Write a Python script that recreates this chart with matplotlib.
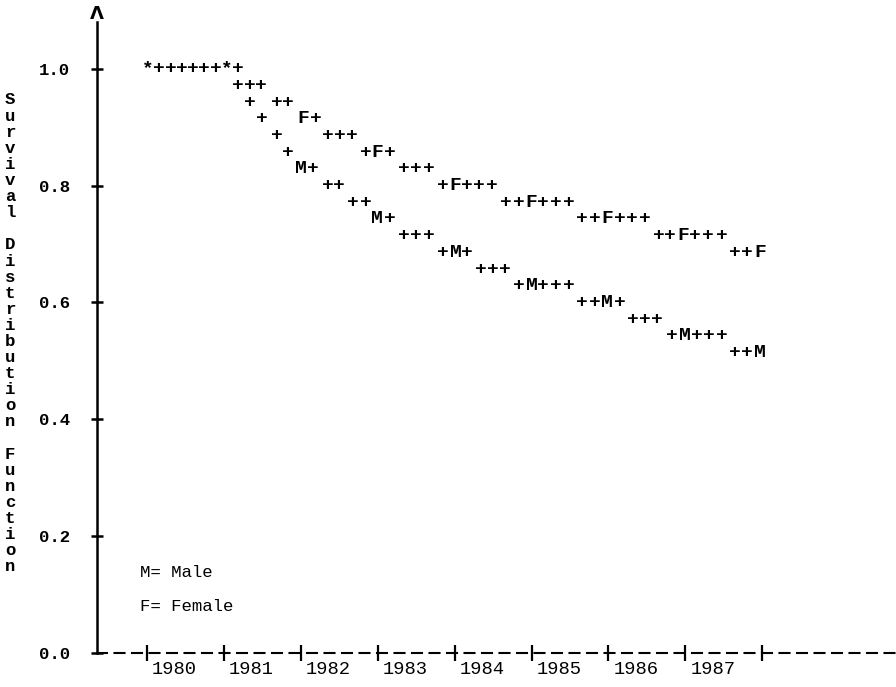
import matplotlib
matplotlib.use("Agg")
import matplotlib.pyplot as plt
from matplotlib.transforms import ScaledTranslation

# ---- survival estimates, one entry per printed plot position ----
# both groups tied at 1.0 through the first year
both_time = [1980.01, 1980.16, 1980.31, 1980.45, 1980.60, 1980.74, 1980.89, 1981.04]
both_surv = [1.0, 1.0, 1.0, 1.0, 1.0, 1.0, 1.0, 1.0]
both_sym = "*++++++*"

female_time = [1981.18, 1981.34, 1981.48, 1981.69, 1981.83, 1982.03, 1982.19,
               1982.35, 1982.51, 1982.67, 1982.85, 1983.00, 1983.16,
               1983.34, 1983.50, 1983.66, 1983.85, 1984.01, 1984.16, 1984.32, 1984.49,
               1984.67, 1984.83, 1985.00, 1985.15, 1985.32, 1985.49,
               1985.66, 1985.83, 1985.98, 1986.15, 1986.31, 1986.48,
               1986.65, 1986.80, 1986.97, 1987.13, 1987.30, 1987.47,
               1987.65, 1987.80, 1987.97]
female_surv = [1.000, 0.971, 0.971, 0.943, 0.943, 0.914, 0.914,
               0.886, 0.886, 0.886, 0.857, 0.857, 0.857,
               0.829, 0.829, 0.829, 0.800, 0.800, 0.800, 0.800, 0.800,
               0.771, 0.771, 0.771, 0.771, 0.771, 0.771,
               0.743, 0.743, 0.743, 0.743, 0.743, 0.743,
               0.714, 0.714, 0.714, 0.714, 0.714, 0.714,
               0.686, 0.686, 0.686]
female_sym = "+++++F+++++F+++++F+++++F+++++F+++++F+++++F"

male_time = [1981.18, 1981.34, 1981.50, 1981.69, 1981.83, 1982.00, 1982.16,
             1982.35, 1982.50, 1982.68, 1982.84, 1982.99, 1983.16,
             1983.34, 1983.50, 1983.66, 1983.85, 1984.01, 1984.16,
             1984.34, 1984.50, 1984.66, 1984.83, 1985.00, 1985.15, 1985.32, 1985.49,
             1985.66, 1985.83, 1985.98, 1986.15, 1986.32, 1986.48, 1986.63,
             1986.83, 1986.99, 1987.15, 1987.31, 1987.47,
             1987.65, 1987.80, 1987.97]
male_surv = [0.971, 0.943, 0.914, 0.886, 0.857, 0.829, 0.829,
             0.800, 0.800, 0.771, 0.771, 0.743, 0.743,
             0.714, 0.714, 0.714, 0.686, 0.686, 0.686,
             0.657, 0.657, 0.657, 0.629, 0.629, 0.629, 0.629, 0.629,
             0.600, 0.600, 0.600, 0.600, 0.571, 0.571, 0.571,
             0.543, 0.543, 0.543, 0.543, 0.543,
             0.514, 0.514, 0.514]
male_sym = "+++++M+++++M+++++M+++++M+++++M+++++M+++++M"

year_ticks = [1980, 1981, 1982, 1983, 1984, 1985, 1986, 1987, 1988]
year_labels = ["1980", "1981", "1982", "1983", "1984", "1985", "1986", "1987", ""]
surv_ticks = [0.0, 0.2, 0.4, 0.6, 0.8, 1.0]
surv_labels = ["0.0", "0.2", "0.4", "0.6", "0.8", "1.0"]
ylabel = "Survival Distribution Function"
legend_lines = ["M= Male", "F= Female"]

MONO = ["Liberation Mono", "DejaVu Sans Mono"]

fig = plt.figure(figsize=(8.96, 6.87), dpi=100)
ax = fig.add_axes([0.1083, 0.0495, 0.8917, 0.9185])
ax.set_xlim(1979.35, 1989.74)
ax.set_ylim(0, 1.08)

for sp in ("top", "right"):
    ax.spines[sp].set_visible(False)
ax.spines["left"].set_linewidth(1.8)
ax.spines["bottom"].set_linewidth(1.5)
ax.spines["bottom"].set_linestyle((0, (4.8, 3.6)))

ax.set_yticks(surv_ticks)
ax.set_yticklabels(surv_labels, family=MONO, fontsize=12.5, fontweight="bold")
ax.tick_params(axis="y", direction="inout", length=9, width=1.8, pad=15)

ax.set_xticks(year_ticks)
ax.set_xticklabels(year_labels, family=MONO, fontsize=13.5, ha="left")
ax.tick_params(axis="x", direction="inout", length=12, width=1.6, pad=0)
shift = ScaledTranslation(5 / 100, 0, fig.dpi_scale_trans)
for lab in ax.get_xticklabels():
    lab.set_transform(lab.get_transform() + shift)

# plot characters
def draw_curve(ts, ss, syms):
    for t, s, c in zip(ts, ss, syms):
        ax.text(t, s, c, ha="center", va="center", family=MONO,
                fontsize=14, fontweight="bold", clip_on=False)

draw_curve(both_time, both_surv, both_sym)
draw_curve(female_time, female_surv, female_sym)
draw_curve(male_time, male_surv, male_sym)

# arrow head on the vertical axis
ax.text(0, 1.012, "\u039b", transform=ax.transAxes, ha="center", va="center",
        family=["DejaVu Sans"], fontsize=13, fontweight="bold", clip_on=False)

# stacked, upright axis title
for i, ch in enumerate(ylabel):
    if ch == " ":
        continue
    fig.text(10 / 896, 1 - (100 + i * 16.1) / 687, ch, ha="center", va="center",
             family=MONO, fontsize=12.5, fontweight="bold")

# group key
for i, line in enumerate(legend_lines):
    ax.text(0.054, 0.127 - i * 0.054, line, transform=ax.transAxes,
            ha="left", va="center", family=MONO, fontsize=12.5)

fig.savefig("out.png", dpi=100)
